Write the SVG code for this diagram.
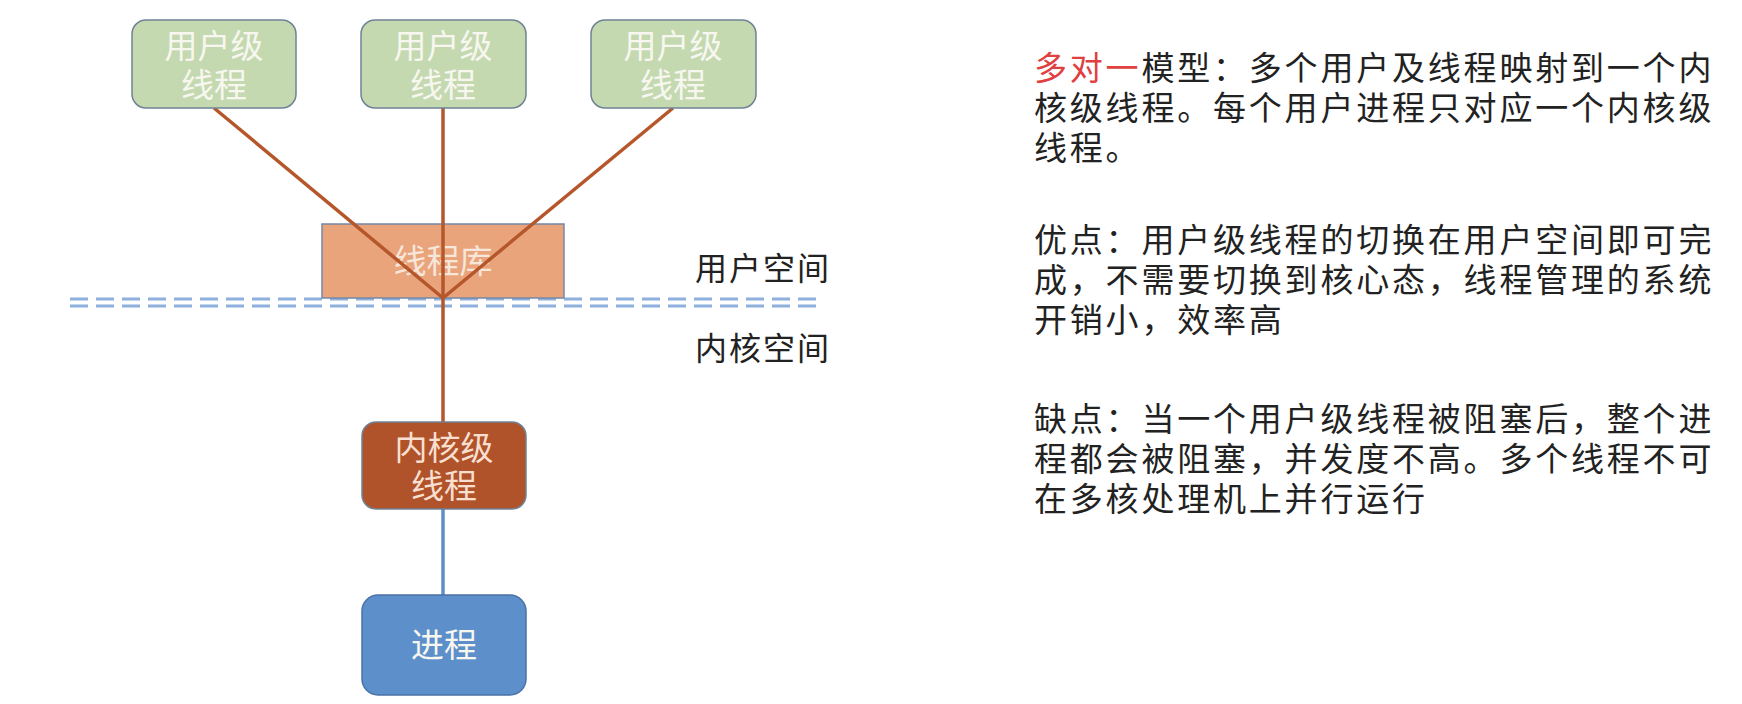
<svg xmlns="http://www.w3.org/2000/svg" width="1742" height="704" viewBox="0 0 1742 704">
<style>
text{font-family:"Liberation Sans","Noto Sans CJK SC",sans-serif;}
.node{stroke:#6f8296;stroke-width:1.5;}
.user{fill:#c4d9b0;}
.ntext{font-size:33px;text-anchor:middle;fill:#f7f7f0;}
.conn{stroke:#b5572b;stroke-width:3.5;fill:none;}
.conn2{stroke:#5e8fca;stroke-width:3.5;fill:none;}
.sep{stroke:#8eb0dc;stroke-width:3;stroke-dasharray:18 8;fill:none;}
.label{font-size:32px;fill:#222;}
.para{font-size:33px;fill:#222;letter-spacing:2.8px;}
</style>
<rect width="1742" height="704" fill="#ffffff"/>
<g id="separator">
<line class="sep" x1="70" y1="299" x2="820" y2="299"/>
<line class="sep" x1="70" y1="306" x2="820" y2="306"/>
</g>
<g id="lib">
<rect x="322" y="224" width="242" height="74" fill="#e9a47c" stroke="#7688a6" stroke-width="1.5"/>
<text class="ntext" x="443" y="273" style="fill:#f7e6da">线程库</text>
</g>
<g id="connectors">
<line class="conn" x1="214" y1="108" x2="443" y2="298"/>
<line class="conn" x1="443" y1="108" x2="443" y2="298"/>
<line class="conn" x1="673" y1="108" x2="443" y2="298"/>
<line class="conn" x1="443" y1="298" x2="443" y2="422"/>
<line class="conn2" x1="443" y1="509" x2="443" y2="595"/>
</g>
<g id="user1">
<rect class="node user" x="132" y="20" width="164" height="88" rx="14"/>
<text class="ntext" x="214" y="58">用户级<tspan x="214" dy="39">线程</tspan></text>
</g>
<g id="user2">
<rect class="node user" x="361" y="20" width="165" height="88" rx="14"/>
<text class="ntext" x="443" y="58">用户级<tspan x="443" dy="39">线程</tspan></text>
</g>
<g id="user3">
<rect class="node user" x="591" y="20" width="165" height="88" rx="14"/>
<text class="ntext" x="673" y="58">用户级<tspan x="673" dy="39">线程</tspan></text>
</g>
<g id="kernel">
<rect class="node" x="362" y="422" width="164" height="87" rx="14" fill="#b0532a"/>
<text class="ntext" x="444" y="460" style="fill:#f8dfd0">内核级<tspan x="444" dy="38">线程</tspan></text>
</g>
<g id="process">
<rect x="362" y="595" width="164" height="100" rx="16" fill="#5d8fcb" stroke="#4a72a6" stroke-width="1.5"/>
<text class="ntext" x="444" y="657">进程</text>
</g>
<g id="labels">
<text class="label" x="695" y="280" letter-spacing="2">用户空间</text>
<text class="label" x="695" y="360" letter-spacing="2">内核空间</text>
</g>
<g id="description">
<text class="para" x="1034" y="80"><tspan fill="#e0403f">多对一</tspan>模型：多个用户及线程映射到一个内<tspan x="1034" dy="40">核级线程。每个用户进程只对应一个内核级</tspan><tspan x="1034" dy="40">线程。</tspan></text>
<text class="para" x="1034" y="252">优点：用户级线程的切换在用户空间即可完<tspan x="1034" dy="40">成，不需要切换到核心态，线程管理的系统</tspan><tspan x="1034" dy="40">开销小，效率高</tspan></text>
<text class="para" x="1034" y="431">缺点：当一个用户级线程被阻塞后，整个进<tspan x="1034" dy="40">程都会被阻塞，并发度不高。多个线程不可</tspan><tspan x="1034" dy="40">在多核处理机上并行运行</tspan></text>
</g>
</svg>
